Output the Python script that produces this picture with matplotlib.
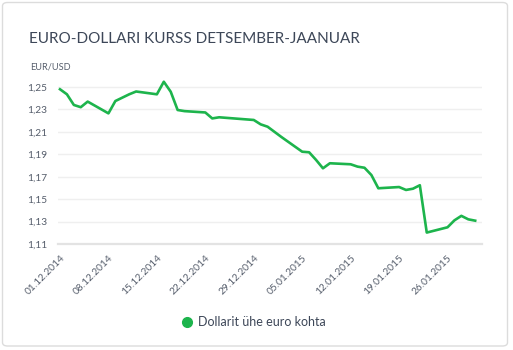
import matplotlib
matplotlib.use("Agg")
import matplotlib.pyplot as plt
import matplotlib.dates as mdates
from matplotlib.patches import FancyBboxPatch
from matplotlib.lines import Line2D
from matplotlib.ticker import FuncFormatter
import pandas as pd

# EUR/USD kurss, tööpäevad
dates = [
    "2014-12-01", "2014-12-02", "2014-12-03", "2014-12-04", "2014-12-05",
    "2014-12-08", "2014-12-09", "2014-12-10", "2014-12-11", "2014-12-12",
    "2014-12-15", "2014-12-16", "2014-12-17", "2014-12-18", "2014-12-19",
    "2014-12-22", "2014-12-23", "2014-12-24",
    "2014-12-29", "2014-12-30", "2014-12-31",
    "2015-01-02", "2015-01-05", "2015-01-06", "2015-01-07", "2015-01-08", "2015-01-09",
    "2015-01-12", "2015-01-13", "2015-01-14", "2015-01-15", "2015-01-16",
    "2015-01-19", "2015-01-20", "2015-01-21", "2015-01-22", "2015-01-23",
    "2015-01-26", "2015-01-27", "2015-01-28", "2015-01-29", "2015-01-30",
]
rates = [
    1.2480, 1.2435, 1.2340, 1.2320, 1.2370,
    1.2265, 1.2375, 1.2405, 1.2435, 1.2460,
    1.2435, 1.2547, 1.2458, 1.2295, 1.2285,
    1.2273, 1.2220, 1.2230,
    1.2206, 1.2167, 1.2146,
    1.2054, 1.1923, 1.1918, 1.1850, 1.1775, 1.1820,
    1.1811, 1.1790, 1.1780, 1.1715, 1.1597,
    1.1608, 1.1582, 1.1593, 1.1624, 1.1202,
    1.1249, 1.1311, 1.1351, 1.1320, 1.1308,
]
tick_dates = ["2014-12-01", "2014-12-08", "2014-12-15", "2014-12-22", "2014-12-29",
              "2015-01-05", "2015-01-12", "2015-01-19", "2015-01-26"]
y_ticks = [1.11, 1.13, 1.15, 1.17, 1.19, 1.21, 1.23, 1.25]

title = "EURO-DOLLARI KURSS DETSEMBER-JAANUAR"
unit_label = "EUR/USD"
series_name = "Dollarit ühe euro kohta"

GREEN = "#1db44c"
TEXT_DARK = "#3d4758"
TEXT_GREY = "#555d6b"

plt.rcParams["font.family"] = ["Lato", "DejaVu Sans"]

W, H = 513, 350
fig = plt.figure(figsize=(W / 100, H / 100), dpi=100)
fig.patch.set_facecolor("white")

# kaart ümber graafiku
card = FancyBboxPatch((2.5 / W, (H - 346) / H), 505 / W, 343.5 / H,
                      boxstyle="round,pad=0,rounding_size=0.01",
                      transform=fig.transFigure, facecolor="white",
                      edgecolor="#dcdcdc", linewidth=1.0, zorder=-5)
fig.patches.append(card)

def px(x, y):
    return x / W, 1 - y / H

x = pd.to_datetime(dates)
start = mdates.date2num(pd.Timestamp("2014-12-01"))
px_per_day = 6.92
left_px, right_px = 58, 482
ax = fig.add_axes([left_px / W, 1 - 244 / H, (right_px - left_px) / W, (244 - 75.8) / H])
ax.set_facecolor("none")
ax.plot(x, rates, color=GREEN, linewidth=1.9, solid_joinstyle="round")

ax.set_xlim(start - (60 - left_px) / px_per_day, start + (right_px - 60) / px_per_day)
ax.set_ylim(1.11, 1.26)

ax.set_yticks(y_ticks)
ax.yaxis.set_major_formatter(FuncFormatter(lambda v, p: f"{v:.2f}".replace(".", ",")))
ax.set_xticks(pd.to_datetime(tick_dates))
ax.xaxis.set_major_formatter(mdates.DateFormatter("%d.%m.%Y"))
ax.tick_params(axis="both", length=0, colors=TEXT_GREY, labelsize=7.3)
ax.tick_params(axis="y", pad=8)
ax.tick_params(axis="x", pad=7)
for lab in ax.get_xticklabels():
    lab.set_rotation(45)
    lab.set_ha("right")
    lab.set_rotation_mode("anchor")

ax.grid(axis="y", color="#efefef", linewidth=1.0)
ax.set_axisbelow(True)
for s in ["top", "right", "left"]:
    ax.spines[s].set_visible(False)
ax.spines["bottom"].set_color("#e3e3e3")
ax.spines["bottom"].set_linewidth(1.6)

fig.text(*px(29, 39), title, fontsize=11, color=TEXT_DARK, va="center", ha="left")
fig.text(*px(30, 67), unit_label, fontsize=6.6, color=TEXT_GREY, va="center", ha="left")

# legend
fig.lines.append(Line2D([187 / W], [1 - 322 / H], marker="o", markersize=7,
                        color=GREEN, transform=fig.transFigure, linestyle="none"))
fig.text(*px(198, 322), series_name, fontsize=9, color=TEXT_DARK, va="center", ha="left")

fig.savefig("out.png", dpi=100, facecolor="white")
